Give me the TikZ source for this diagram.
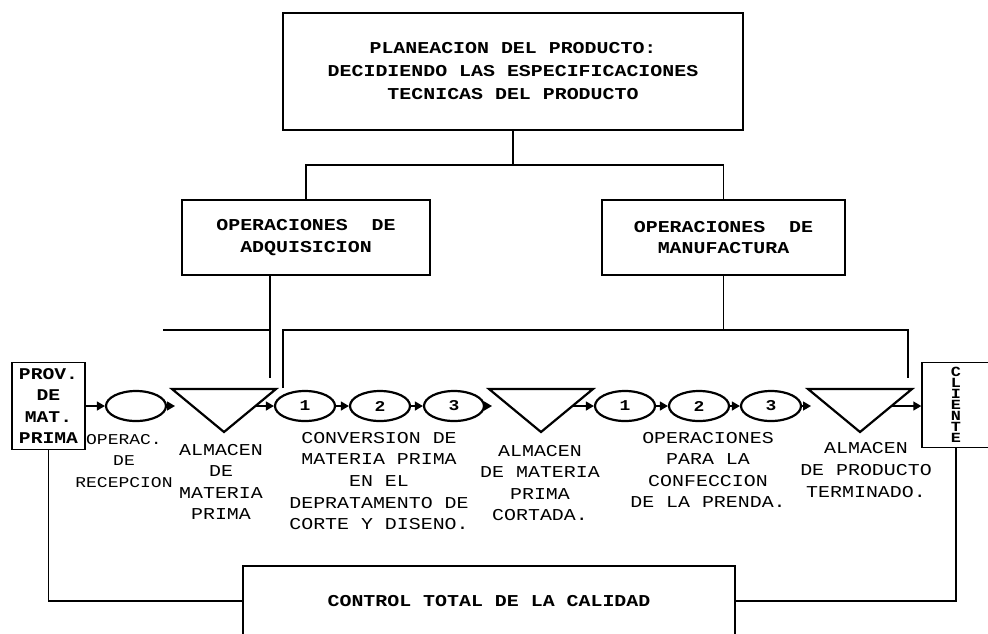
\documentclass[tikz,border=0pt]{standalone}
\usepackage{fontspec}
\usepackage{tikz}
\usetikzlibrary{
    arrows.meta,
    positioning,
    shapes.geometric,
    calc
}
\newfontfamily\dotfont[FakeStretch=1.2]{Liberation Mono}

\begin{document}
\begin{tikzpicture}[
    x=0.5pt, y=-0.5pt,
    >={Triangle[length=4pt,width=4.5pt]},
    line width=0.7pt,
    box/.style={draw, rectangle, inner sep=0pt, align=center,
        font=\dotfont\bfseries\fontsize{8.3}{10.8}\selectfont},
    oper/.style={draw, ellipse, line width=1.1pt, minimum width=30pt,
        minimum height=15pt, inner sep=0pt,
        font=\dotfont\bfseries\fontsize{7.5}{9}\selectfont},
    store/.style={draw, line width=1.1pt, line join=miter},
    tag/.style={align=center, inner sep=0pt,
        font=\dotfont\fontsize{8.3}{10.8}\selectfont},
    flow/.style={->, line width=0.7pt}
]
\useasboundingbox (0,0) rectangle (988,633);

% Planning
\node[box, minimum width=230pt, minimum height=58.5pt,
    font=\dotfont\bfseries\fontsize{8.3}{11.5}\selectfont]
    (plan) at (513,71.5)
    {PLANEACION DEL PRODUCTO:\\DECIDIENDO LAS ESPECIFICACIONES\\TECNICAS DEL PRODUCTO};

% Operations
\node[box, minimum width=124pt, minimum height=37.5pt] (adq) at (306,237.5)
    {OPERACIONES~~DE\\ADQUISICION};
\node[box, minimum width=121.5pt, minimum height=37.5pt] (man) at (723.5,237.5)
    {OPERACIONES~~DE\\MANUFACTURA};

% Supplier and client
\node[box, minimum width=36.5pt, minimum height=43.5pt,
    font=\dotfont\bfseries\fontsize{8.2}{10.8}\selectfont]
    (prov) at (48.5,406) {PROV.\\DE\\MAT.\\PRIMA};
\node[box, minimum width=34pt, minimum height=42.5pt,
    font=\dotfont\bfseries\fontsize{7}{5.5}\selectfont]
    (cli) at (956,405) {C\\L\\I\\E\\N\\T\\E};

% Quality control
\node[box, minimum width=246pt, minimum height=35pt] (ctl) at (489,601)
    {CONTROL TOTAL DE LA CALIDAD};

% Process steps
\node[oper] (rec) at (136,406) {};
\node[oper] (c1) at (305,406) {1};
\node[oper] (c2) at (380,406) {2};
\node[oper] (c3) at (454,406) {3};
\node[oper] (p1) at (625,406) {1};
\node[oper] (p2) at (699,406) {2};
\node[oper] (p3) at (771,406) {3};

% Storages
\foreach \n/\x in {t1/224, t2/541, t3/860} {
    \coordinate (\n) at (\x,389);
    \draw[store] (\n) ++(-52,0) coordinate (\n-l)
        -- ++(52,43) coordinate (\n-b)
        -- ++(52,-43) coordinate (\n-r) -- cycle;
    \coordinate (\n-in) at (\x-49,406);
    \coordinate (\n-out) at (\x+32,406);
}

% Flow
\draw[flow] (prov) -- (rec);
\draw[flow] (rec) -- (t1-in);
\draw[flow] (t1-out) -- (c1);
\draw[flow] (c1) -- (c2);
\draw[flow] (c2) -- (c3);
\draw[flow] (c3) -- (t2-in);
\draw[flow] (t2-out) -- (p1);
\draw[flow] (p1) -- (p2);
\draw[flow] (p2) -- (p3);
\draw[flow] (p3) -- (t3-in);
\draw[flow] (t3-out) -- (cli.west |- t3-out);

% Labels
\node[tag, font=\dotfont\fontsize{7.5}{10.8}\selectfont]
    (l-rec) at (124,461) {OPERAC.\\DE\\RECEPCION};
\node[tag] (l-t1) at (221,482) {ALMACEN\\DE\\MATERIA\\PRIMA};
\node[tag] (l-cv) at (379,481)
    {CONVERSION DE\\MATERIA PRIMA\\EN EL\\DEPRATAMENTO DE\\CORTE Y DISENO.};
\node[tag] (l-t2) at (540,483) {ALMACEN\\DE MATERIA\\PRIMA\\CORTADA.};
\node[tag] (l-cf) at (708,470) {OPERACIONES\\PARA LA\\CONFECCION\\DE LA PRENDA.};
\node[tag] (l-t3) at (866,470) {ALMACEN\\DE PRODUCTO\\TERMINADO.};

% Planning to operations
\coordinate (opsL) at (306,165);
\coordinate (opsR) at (723.5,165);
\draw (plan.south) -- (plan.south |- opsL);
\draw (adq.north) -- (opsL) -- (opsR) -- (man.north);

% Acquisition span
\coordinate (adqL) at (163,330);
\coordinate (adqD) at (270,378);
\draw (adqL) -- (adqL -| adqD);
\draw (adq.south -| adqD) -- (adqD);

% Manufacturing span
\coordinate (manL) at (283,388);
\coordinate (manR) at (908,378);
\draw (man.south) -- (man.south |- adqL);
\draw (manL) |- (manR |- adqL) -- (manR);

% Quality loop
\draw (prov.south) |- (ctl.west);
\draw (cli.south) |- (ctl.east);

\end{tikzpicture}
\end{document}
